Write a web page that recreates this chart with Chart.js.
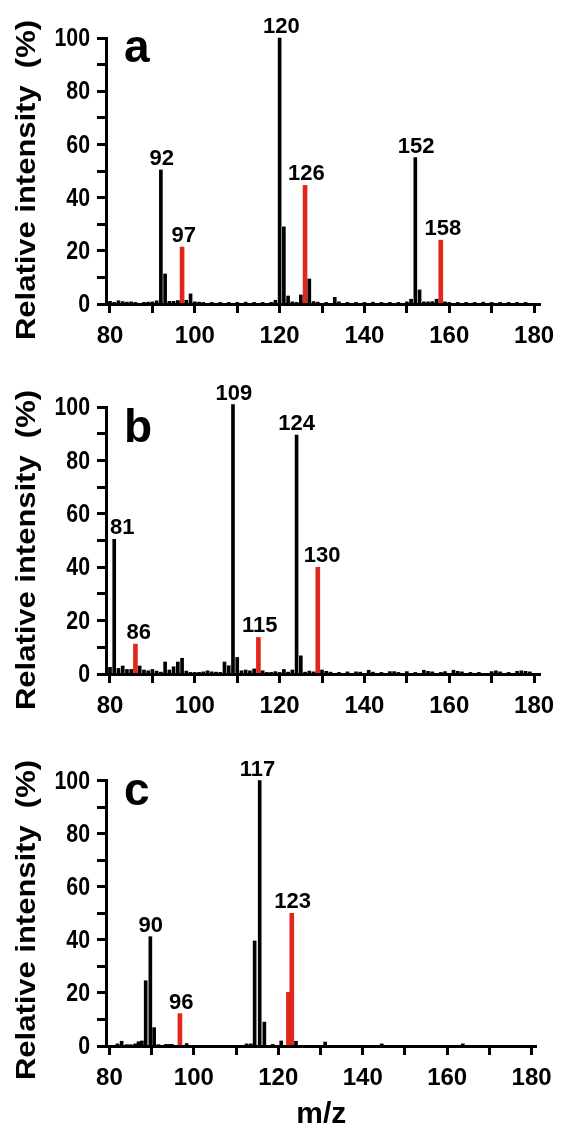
<!DOCTYPE html>
<html>
<head>
<meta charset="utf-8">
<script src="https://cdn.jsdelivr.net/npm/chart.js@4.4.1/dist/chart.umd.min.js"></script>
<style>
  html, body { margin: 0; padding: 0; background: #fff; width: 564px; height: 1126px; overflow: hidden; }
  canvas { position: absolute; left: 0; }
</style>
</head>
<body>
<canvas id="panelA" width="564" height="360" style="top:0px"></canvas>
<canvas id="panelB" width="564" height="360" style="top:370px"></canvas>
<canvas id="panelC" width="564" height="386" style="top:740px"></canvas>
<script>
// ------------------------------------------------------------------
// Data (m/z, relative intensity %)
// ------------------------------------------------------------------
const mzA  = [80, 81, 82, 83, 84, 85, 86, 88, 89, 90, 91, 92, 93, 94, 95, 96, 98, 99, 100, 101, 102, 104, 106, 108, 110, 112, 114, 116, 118, 119, 120, 121, 122, 123, 124, 125, 127, 128, 129, 131, 133, 134, 136, 138, 140, 142, 144, 146, 148, 150, 151, 152, 153, 154, 155, 156, 157, 159, 160, 162, 164, 166, 168, 170, 172, 174, 176, 178];
const intA = [1.0, 0.6, 1.2, 0.9, 0.7, 0.8, 0.6, 0.6, 0.7, 0.8, 1.2, 50.4, 11.3, 1.0, 1.0, 1.3, 1.4, 3.8, 0.8, 0.7, 0.6, 0.6, 0.6, 0.6, 0.6, 0.7, 0.6, 0.6, 0.6, 1.4, 100, 29, 3, 0.8, 0.6, 3.4, 9.4, 0.9, 0.7, 0.6, 2.5, 0.8, 0.6, 0.6, 0.6, 0.7, 0.6, 0.6, 0.6, 0.8, 1.8, 55, 5.3, 0.8, 0.8, 0.9, 1.8, 0.8, 0.6, 0.6, 0.6, 0.6, 0.7, 0.6, 0.6, 0.6, 0.6, 0.6];
const redMzA  = [97, 126, 158];
const redIntA = [21.4, 44.6, 24.0];
const peakTextA = ['92', '97', '120', '126', '152', '158'];
const peakMzA   = [92.2, 97.4, 120.4, 126.3, 152.2, 158.5];
const peakIntA  = [50.4, 21.4, 100, 44.6, 55, 24.0];

const mzB  = [80, 81, 82, 83, 84, 85, 87, 88, 89, 90, 91, 92, 93, 94, 95, 96, 97, 98, 99, 100, 101, 102, 103, 104, 105, 106, 107, 108, 109, 110, 111, 112, 113, 114, 116, 117, 118, 119, 120, 121, 122, 123, 124, 125, 126, 127, 128, 130, 131, 132, 134, 136, 138, 139, 141, 142, 144, 146, 147, 148, 150, 152, 154, 155, 156, 158, 159, 161, 162, 163, 165, 167, 170, 171, 172, 174, 176, 177, 178, 179];
const intB = [2.5, 50.5, 2.1, 3.0, 1.7, 1.7, 3.0, 1.5, 1.2, 1.7, 1.1, 0.7, 4.5, 1.5, 2.7, 4.5, 5.9, 1.1, 0.6, 0.6, 0.6, 0.8, 1.2, 0.8, 0.7, 0.6, 4.5, 3.1, 101, 6.2, 1.2, 1.5, 1.2, 1.9, 1.2, 0.6, 0.6, 0.9, 0.6, 1.7, 0.7, 1.5, 89.6, 6.8, 0.7, 1.1, 0.8, 1.5, 1.0, 0.7, 0.6, 0.8, 0.8, 0.7, 1.4, 0.7, 0.6, 0.9, 0.9, 0.6, 0.9, 0.6, 1.4, 1.0, 0.8, 0.6, 0.9, 1.4, 1.0, 0.8, 0.6, 0.6, 0.9, 1.2, 0.8, 0.6, 1.0, 1.2, 1.0, 0.8];
const redMzB  = [86, 115, 129];
const redIntB = [11.2, 13.7, 40];
const peakTextB = ['81', '86', '109', '115', '124', '130'];
const peakMzB   = [82.9, 86.8, 109.2, 115.3, 124.0, 130.0];
const peakIntB  = [50.5, 11.2, 101, 13.7, 89.6, 40];

const mzC  = [81.9, 82.9, 84.1, 85, 86.1, 86.9, 87.7, 88.6, 89.7, 90.6, 91.6, 93.4, 94.1, 94.8, 98.3, 112.5, 113.5, 114.4, 115.6, 116.7, 118.7, 120.7, 124.2, 131.1, 144.5, 163.7];
const intC = [0.8, 1.8, 0.5, 0.5, 0.8, 1.6, 1.9, 24.6, 41.2, 6.9, 0.5, 0.6, 0.6, 0.6, 0.9, 0.8, 0.8, 39.6, 100, 9, 0.6, 1.9, 1.8, 1.5, 0.8, 0.8];
const redMzC  = [96.7, 122.4, 123.2];
const redIntC = [12.2, 20.2, 50];
const peakTextC = ['90', '96', '117', '123'];
const peakMzC   = [89.8, 97.0, 115.1, 123.4];
const peakIntC  = [41.2, 12.2, 100, 50];

const xTickValues = [80, 90, 100, 110, 120, 130, 140, 150, 160, 170, 180];
const xTickLabels = ['80', '', '100', '', '120', '', '140', '', '160', '', '180'];
const yTickValues = [0, 10, 20, 30, 40, 50, 60, 70, 80, 90, 100];
const yTickLabels = ['0', '', '20', '', '40', '', '60', '', '80', '', '100'];

const BLACK = '#000000';
const RED = '#e2261c';
const FONT = "'Liberation Sans', Arial, Helvetica, sans-serif";

// ------------------------------------------------------------------
// Text overlay: panel letter, peak labels, y tick labels, axis titles
// ------------------------------------------------------------------
const overlay = {
  id: 'overlay',
  afterDraw(chart, args, opts) {
    const { ctx, chartArea } = chart;
    const xs = chart.scales.x, ys = chart.scales.y;
    ctx.save();
    ctx.fillStyle = BLACK;

    // panel letter
    ctx.font = `bold 46px ${FONT}`;
    ctx.textAlign = 'left';
    ctx.textBaseline = 'alphabetic';
    ctx.fillText(opts.letter, 124, opts.letterBase);

    // peak labels
    ctx.font = `bold 22px ${FONT}`;
    ctx.textAlign = 'center';
    opts.peakText.forEach((t, i) => {
      ctx.fillText(t, xs.getPixelForValue(opts.peakMz[i]), ys.getPixelForValue(opts.peakInt[i]) - 5);
    });

    // y tick labels (narrow, tall digits as in the original)
    ctx.font = `bold 26px ${FONT}`;
    ctx.textAlign = 'right';
    ctx.textBaseline = 'middle';
    yTickValues.forEach((v, i) => {
      if (!yTickLabels[i]) return;
      ctx.save();
      ctx.translate(90, ys.getPixelForValue(v) + 1);
      ctx.scale(0.82, 1);
      ctx.fillText(yTickLabels[i], 0, 0);
      ctx.restore();
    });

    // y axis title (stretched along its length like the original)
    const title = 'Relative intensity  (%)';
    ctx.font = `bold 27px ${FONT}`;
    ctx.textAlign = 'center';
    const w = ctx.measureText(title).width;
    ctx.translate(28, 180);
    ctx.rotate(-Math.PI / 2);
    ctx.scale(320 / w, 1);
    ctx.fillText(title, 0, 0);
    ctx.restore();

    if (opts.xTitle) {
      ctx.save();
      ctx.fillStyle = BLACK;
      ctx.font = `bold 30px ${FONT}`;
      ctx.textAlign = 'center';
      ctx.textBaseline = 'alphabetic';
      ctx.fillText(opts.xTitle, (chartArea.left + chartArea.right) / 2, 383);
      ctx.restore();
    }
  }
};

function toPoints(xs, ys) {
  return xs.map((x, i) => ({ x, y: ys[i] }));
}

function buildPanel(id, cfg) {
  const canvas = document.getElementById(id);
  const H = canvas.height;
  return new Chart(canvas, {
    type: 'bar',
    data: {
      datasets: [
        { data: toPoints(cfg.mz, cfg.int), backgroundColor: BLACK, barThickness: 3, grouped: false, clip: false },
        { data: toPoints(cfg.redMz, cfg.redInt), backgroundColor: RED, barThickness: 4, grouped: false, clip: false },
      ],
    },
    options: {
      responsive: false,
      animation: false,
      events: [],
      layout: { padding: { top: cfg.top, right: cfg.right, left: 0, bottom: 0 } },
      plugins: {
        legend: { display: false },
        tooltip: { enabled: false },
        overlay: cfg.overlay,
      },
      scales: {
        x: {
          type: 'linear',
          offset: false,
          min: cfg.xMin,
          max: cfg.xMax,
          afterBuildTicks: ax => { ax.ticks = xTickValues.map(v => ({ value: v })); },
          afterFit: ax => { ax.height = H - cfg.bottom; },
          grid: { offset: false, drawOnChartArea: false, color: BLACK, tickColor: BLACK, tickLength: 9, tickWidth: 3 },
          border: { color: BLACK, width: 3, z: 1 },
          ticks: {
            autoSkip: false, maxRotation: 0, padding: 9, color: BLACK,
            font: { family: FONT, size: 24, weight: 'bold' },
            callback: v => xTickLabels[xTickValues.indexOf(v)] ?? '',
          },
        },
        y: {
          min: 0,
          max: 100,
          afterBuildTicks: ax => { ax.ticks = yTickValues.map(v => ({ value: v })); },
          afterFit: ax => { ax.width = 106; },
          grid: { drawOnChartArea: false, color: BLACK, tickColor: BLACK, tickLength: 9, tickWidth: 3 },
          border: { color: BLACK, width: 3, z: 1 },
          ticks: { display: false },
        },
      },
    },
    plugins: [overlay],
  });
}

buildPanel('panelA', {
  mz: mzA, int: intA, redMz: redMzA, redInt: redIntA,
  top: 38, bottom: 304, right: 24, xMin: 79.06, xMax: 181.4,
  overlay: { letter: 'a', letterBase: 62, peakText: peakTextA, peakMz: peakMzA, peakInt: peakIntA },
});

buildPanel('panelB', {
  mz: mzB, int: intB, redMz: redMzB, redInt: redIntB,
  top: 37.3, bottom: 304, right: 24, xMin: 79.06, xMax: 181.4,
  overlay: { letter: 'b', letterBase: 71.7, peakText: peakTextB, peakMz: peakMzB, peakInt: peakIntB },
});

buildPanel('panelC', {
  mz: mzC, int: intC, redMz: redMzC, redInt: redIntC,
  top: 40.7, bottom: 306, right: 27.3, xMin: 79.2, xMax: 181.2,
  overlay: { letter: 'c', letterBase: 65, peakText: peakTextC, peakMz: peakMzC, peakInt: peakIntC, xTitle: 'm/z' },
});
</script>
</body>
</html>
